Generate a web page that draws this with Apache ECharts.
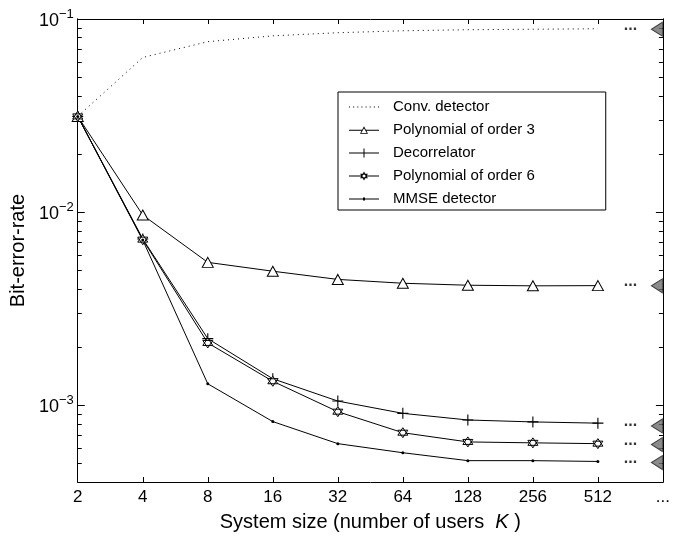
<!DOCTYPE html>
<html>
<head>
<meta charset="utf-8">
<script src="https://cdn.jsdelivr.net/npm/echarts@6/dist/echarts.min.js"></script>
<style>
html,body{margin:0;padding:0;background:#fff;}
#chart{width:673px;height:537px;}
</style>
</head>
<body>
<div id="chart"></div>
<script>
// ---- data ----
const xLabels = ['2','4','8','16','32','64','128','256','512','...'];
const seriesNames = ['Conv. detector','Polynomial of order 3','Decorrelator','Polynomial of order 6','MMSE detector'];
const conv   = [0.0313, 0.0632, 0.0763, 0.0818, 0.0849, 0.0869, 0.0880, 0.0885, 0.0890];
const poly3  = [0.0313, 0.00965, 0.00549, 0.00494, 0.00448, 0.00428, 0.00418, 0.00415, 0.00416];
const decor  = [0.0313, 0.00726, 0.00221, 0.00137, 0.00105, 0.000907, 0.000838, 0.000819, 0.000807];
const poly6  = [0.0313, 0.00720, 0.00210, 0.00133, 0.000925, 0.000720, 0.000645, 0.000638, 0.000632];
const mmse   = [0.0313, 0.00716, 0.00129, 0.000822, 0.000632, 0.000567, 0.000516, 0.000516, 0.000511];
const limits = [0.0886, 0.00415, 0.000781, 0.000625, 0.000504];
const yMin = 4e-4, yMax = 0.1;
const yMajor = [1e-3, 1e-2, 1e-1];
const yMinor = [5e-4,6e-4,7e-4,8e-4,9e-4,2e-3,3e-3,4e-3,5e-3,6e-3,7e-3,8e-3,9e-3,2e-2,3e-2,4e-2,5e-2,6e-2,7e-2,8e-2,9e-2];

// ---- helpers ----
const L = v => Math.log10(v);
const toPts = arr => arr.map((v, i) => [i, L(v)]);
const FONT = 'Liberation Sans';
const supMap = {'-1':'−1','-2':'−2','-3':'−3'};

// legend icon paths (30 x 14 boxes, nonzero fill; inner rings reversed for holes)
function dottedIcon() {
  let p = 'path://';
  for (let x = 0; x < 30; x += 4) p += 'M' + x + ',6.5h1v1h-1z ';
  return p;
}
const iconConv  = dottedIcon();
const iconPoly3 = 'path://M0,6.5h13v1h-13z M17,6.5h13v1h-13z ' +
  'M15,3L19,10.5L11,10.5Z M15,4.9L12.3,9.8L17.7,9.8Z';
const iconDecor = 'path://M0,6.5h30v1h-30z M14.5,2.5h1v9h-1z';
const iconPoly6 = 'path://M0,6.5h12.5v1h-12.5z M17.5,6.5h12.5v1h-12.5z ' +
  'M15,2.5L18.9,9.25L11.1,9.25Z M15,4.3L12.66,8.35L17.34,8.35Z ' +
  'M15,11.5L11.1,4.75L18.9,4.75Z M15,9.7L17.34,5.65L12.66,5.65Z';
const iconMmse  = 'path://M0,6.5h30v1h-30z M14,5.5h2v3h-2z';

const chart = echarts.init(document.getElementById('chart'), null, {renderer:'canvas'});

const baseY = {
  type: 'value', min: L(yMin), max: L(yMax), scale: true,
  splitLine: {show: false},
  axisLine: {show: true, lineStyle: {color: '#000', width: 1}}
};
function yAx(pos, values, len, labels) {
  return Object.assign({}, baseY, {
    position: pos,
    axisTick: {show: true, inside: true, length: len, customValues: values.map(L), lineStyle: {color: '#000'}},
    axisLabel: labels ? {
      show: true, margin: 4, customValues: yMajor.map(L),
      formatter: v => '{b|10}{s|' + supMap[String(Math.round(v))] + '}',
      rich: {
        b: {fontFamily: FONT, fontSize: 18, color: '#000', lineHeight: 22, verticalAlign: 'bottom'},
        s: {fontFamily: FONT, fontSize: 13, color: '#000', lineHeight: 22, verticalAlign: 'top', padding: [0,0,9,0]}
      }
    } : {show: false},
    name: labels ? 'Bit-error-rate' : '',
    nameLocation: 'middle', nameGap: 47, nameRotate: 90,
    nameTextStyle: {fontFamily: FONT, fontSize: 20, color: '#000'}
  });
}
const baseX = {
  type: 'value', min: 0, max: 9, interval: 1,
  splitLine: {show: false},
  axisLine: {show: true, lineStyle: {color: '#000', width: 1}},
  axisTick: {show: true, inside: true, length: 5, lineStyle: {color: '#000'}}
};

const lineCommon = {type: 'line', xAxisIndex: 0, yAxisIndex: 0, lineStyle: {color: '#000', width: 1}, z: 3, animation: false};

const option = {
  animation: false,
  backgroundColor: '#fff',
  grid: {left: 72, right: 4, top: 19, bottom: 48, containLabel: false},
  legend: {
    orient: 'vertical', left: 338, top: 92,
    padding: [7, 71, 3, 11], itemGap: 7, itemWidth: 30, itemHeight: 14,
    backgroundColor: '#fff', borderColor: '#000', borderWidth: 1, borderRadius: 0,
    itemStyle: {color: '#000', borderColor: '#000', borderWidth: 0},
    textStyle: {fontFamily: FONT, fontSize: 15, color: '#000', lineHeight: 16, padding: [0, 0, 0, 9]},
    data: [
      {name: seriesNames[0], icon: iconConv},
      {name: seriesNames[1], icon: iconPoly3},
      {name: seriesNames[2], icon: iconDecor},
      {name: seriesNames[3], icon: iconPoly6},
      {name: seriesNames[4], icon: iconMmse}
    ]
  },
  xAxis: [
    Object.assign({}, baseX, {
      position: 'bottom',
      axisLabel: {show: true, margin: 7, fontFamily: FONT, fontSize: 17, color: '#000',
        formatter: v => xLabels[Math.round(v)] || ''},
      name: 'System size (number of users  {i|K} )', nameLocation: 'middle', nameGap: 30,
      nameTextStyle: {fontFamily: FONT, fontSize: 20, color: '#000',
        rich: {i: {fontFamily: FONT, fontSize: 20, fontStyle: 'italic', color: '#000'}}}
    }),
    Object.assign({}, baseX, {position: 'top', axisLabel: {show: false}})
  ],
  yAxis: [
    yAx('left', yMajor, 7, true),
    yAx('left', yMinor, 4, false),
    yAx('right', yMajor, 7, false),
    yAx('right', yMinor, 4, false)
  ],
  series: [
    Object.assign({}, lineCommon, {
      name: seriesNames[0], data: toPts(conv), symbol: 'none', showSymbol: false,
      itemStyle: {color: '#000'},
      lineStyle: {color: '#000', width: 1, type: [1, 4]}
    }),
    Object.assign({}, lineCommon, {
      name: seriesNames[1], data: toPts(poly3), symbol: 'triangle', symbolSize: [11, 10],
      itemStyle: {color: '#fff', borderColor: '#000', borderWidth: 1}
    }),
    Object.assign({}, lineCommon, {
      name: seriesNames[2], data: toPts(decor),
      symbol: 'path://M4.5,0h1v4.5h4.5v1h-4.5v4.5h-1v-4.5h-4.5v-1h4.5z', symbolSize: 11,
      itemStyle: {color: '#000', borderWidth: 0}
    }),
    Object.assign({}, lineCommon, {
      name: seriesNames[3], data: toPts(poly6),
      symbol: 'path://M5,0L9.33,7.5L0.67,7.5Z M5,10L0.67,2.5L9.33,2.5Z', symbolSize: 10,
      itemStyle: {color: '#fff', borderColor: '#000', borderWidth: 1}
    }),
    Object.assign({}, lineCommon, {
      name: seriesNames[4], data: toPts(mmse), symbol: 'circle', symbolSize: 3,
      itemStyle: {color: '#000'}
    }),
    {
      type: 'scatter', name: 'dots', xAxisIndex: 0, yAxisIndex: 0, silent: true,
      data: limits.map(v => [8.5, L(v)]), symbolSize: 1, itemStyle: {color: 'rgba(0,0,0,0)'},
      label: {show: true, position: 'inside', formatter: '...', fontFamily: FONT, fontSize: 16, fontWeight: 'bold', color: '#000', offset: [0, -4]},
      z: 4
    },
    {
      type: 'scatter', name: 'limits', xAxisIndex: 0, yAxisIndex: 0, silent: true,
      data: limits.map(v => [9, L(v)]), symbol: 'triangle', symbolSize: [14, 11], symbolRotate: 90,
      symbolOffset: [-6, 0],
      itemStyle: {color: '#6e6e6e', borderColor: '#222', borderWidth: 1},
      z: 5
    }
  ]
};
chart.setOption(option);
</script>
</body>
</html>
